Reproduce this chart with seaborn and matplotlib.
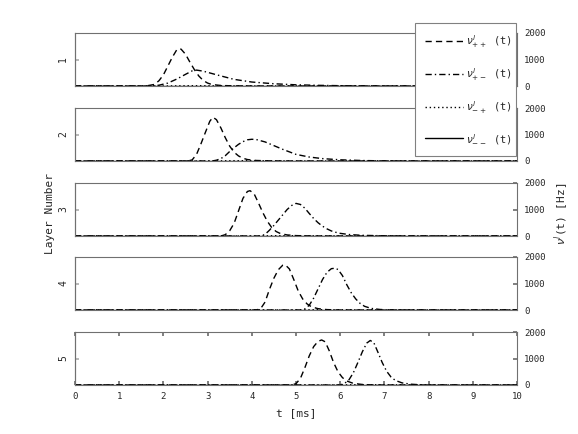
import numpy as np
import pandas as pd
import matplotlib
matplotlib.use("Agg")
import matplotlib.pyplot as plt
from matplotlib.lines import Line2D
import seaborn as sns

# ---------------- data ----------------
layers = [1, 2, 3, 4, 5]
series_names = ["++", "+-", "-+", "--"]
x_ticks = [0, 1, 2, 3, 4, 5, 6, 7, 8, 9, 10]
right_ticks = [0, 1000, 2000]

# layer 1
l1_pp_t = [0, 1.6, 1.8, 1.9, 2.0, 2.1, 2.2, 2.3, 2.35, 2.4, 2.5, 2.6, 2.7, 2.8, 2.9, 3.0, 3.1, 3.3, 3.6, 4.0, 10]
l1_pp_v = [0, 0, 60, 200, 420, 750, 1080, 1360, 1410, 1390, 1200, 900, 620, 380, 210, 110, 55, 20, 5, 0, 0]
l1_pm_t = [0, 1.7, 1.9, 2.1, 2.3, 2.5, 2.65, 2.75, 2.9, 3.1, 3.3, 3.6, 4.0, 4.5, 5.0, 5.5, 6.0, 6.5, 7.0, 10]
l1_pm_v = [0, 0, 30, 110, 260, 440, 570, 600, 560, 470, 380, 250, 150, 85, 45, 25, 12, 5, 0, 0]
l1_mp_t = [0, 2.0, 2.6, 3.2, 4.5, 10]
l1_mp_v = [0, 0, 12, 8, 0, 0]
l1_mm_t = [0, 10]
l1_mm_v = [0, 0]

# layer 2
l2_pp_t = [0, 2.55, 2.65, 2.75, 2.85, 2.95, 3.05, 3.12, 3.2, 3.3, 3.4, 3.5, 3.6, 3.7, 3.8, 3.9, 4.1, 4.4, 4.8, 10]
l2_pp_v = [0, 0, 40, 250, 650, 1080, 1500, 1650, 1560, 1250, 880, 560, 330, 190, 105, 55, 20, 5, 0, 0]
l2_pm_t = [0, 3.1, 3.2, 3.3, 3.4, 3.5, 3.6, 3.7, 3.8, 3.9, 4.0, 4.1, 4.3, 4.5, 4.7, 5.0, 5.3, 5.6, 6.0, 6.5, 7.0, 7.5, 10]
l2_pm_v = [0, 0, 30, 90, 200, 360, 500, 630, 730, 800, 820, 810, 720, 580, 440, 250, 150, 90, 45, 18, 5, 0, 0]
l2_mp_t = [0, 3.0, 3.6, 4.3, 5.5, 10]
l2_mp_v = [0, 0, 12, 8, 0, 0]
l2_mm_t = [0, 10]
l2_mm_v = [0, 0]

# layer 3
l3_pp_t = [0, 3.3, 3.4, 3.5, 3.6, 3.7, 3.8, 3.9, 3.96, 4.05, 4.15, 4.25, 4.35, 4.45, 4.55, 4.65, 4.8, 5.0, 5.4, 10]
l3_pp_v = [0, 0, 50, 200, 480, 950, 1420, 1680, 1710, 1600, 1250, 880, 560, 320, 170, 90, 40, 15, 0, 0]
l3_pm_t = [0, 4.2, 4.3, 4.4, 4.5, 4.6, 4.7, 4.8, 4.9, 5.0, 5.1, 5.2, 5.3, 5.4, 5.5, 5.6, 5.7, 5.8, 5.9, 6.0, 6.2, 6.5, 7.0, 7.5, 10]
l3_pm_v = [0, 0, 60, 220, 400, 600, 800, 1000, 1150, 1230, 1190, 1050, 850, 660, 500, 370, 270, 190, 140, 100, 55, 25, 8, 0, 0]
l3_mp_t = [0, 4.0, 4.6, 5.4, 6.6, 10]
l3_mp_v = [0, 0, 12, 8, 0, 0]
l3_mm_t = [0, 10]
l3_mm_v = [0, 0]

# layer 4
l4_pp_t = [0, 4.1, 4.2, 4.3, 4.4, 4.5, 4.6, 4.7, 4.76, 4.85, 4.95, 5.05, 5.15, 5.25, 5.35, 5.5, 5.7, 6.0, 10]
l4_pp_v = [0, 0, 50, 300, 780, 1200, 1520, 1690, 1700, 1550, 1150, 720, 420, 230, 120, 50, 15, 0, 0]
l4_pm_t = [0, 5.1, 5.2, 5.3, 5.4, 5.5, 5.6, 5.7, 5.8, 5.88, 5.95, 6.05, 6.15, 6.25, 6.35, 6.45, 6.55, 6.7, 6.9, 7.2, 10]
l4_pm_v = [0, 0, 40, 180, 450, 800, 1150, 1420, 1560, 1575, 1530, 1300, 950, 650, 420, 250, 140, 60, 20, 0, 0]
l4_mp_t = [0, 4.9, 5.5, 6.3, 7.3, 10]
l4_mp_v = [0, 0, 12, 8, 0, 0]
l4_mm_t = [0, 10]
l4_mm_v = [0, 0]

# layer 5
l5_pp_t = [0, 4.9, 5.0, 5.1, 5.2, 5.3, 5.4, 5.5, 5.58, 5.66, 5.75, 5.85, 5.95, 6.05, 6.15, 6.3, 6.5, 6.8, 10]
l5_pp_v = [0, 0, 50, 250, 650, 1100, 1450, 1650, 1700, 1630, 1300, 850, 500, 280, 150, 60, 20, 0, 0]
l5_pm_t = [0, 6.0, 6.1, 6.2, 6.3, 6.4, 6.5, 6.6, 6.68, 6.76, 6.85, 6.95, 7.05, 7.15, 7.25, 7.4, 7.6, 7.9, 10]
l5_pm_v = [0, 0, 60, 200, 470, 850, 1250, 1580, 1680, 1600, 1250, 850, 520, 300, 170, 80, 30, 0, 0]
l5_mp_t = [0, 5.8, 6.4, 7.1, 8.0, 10]
l5_mp_v = [0, 0, 12, 8, 0, 0]
l5_mm_t = [0, 10]
l5_mm_v = [0, 0]

layer_data = {
    1: [(l1_pp_t, l1_pp_v), (l1_pm_t, l1_pm_v), (l1_mp_t, l1_mp_v), (l1_mm_t, l1_mm_v)],
    2: [(l2_pp_t, l2_pp_v), (l2_pm_t, l2_pm_v), (l2_mp_t, l2_mp_v), (l2_mm_t, l2_mm_v)],
    3: [(l3_pp_t, l3_pp_v), (l3_pm_t, l3_pm_v), (l3_mp_t, l3_mp_v), (l3_mm_t, l3_mm_v)],
    4: [(l4_pp_t, l4_pp_v), (l4_pm_t, l4_pm_v), (l4_mp_t, l4_mp_v), (l4_mm_t, l4_mm_v)],
    5: [(l5_pp_t, l5_pp_v), (l5_pm_t, l5_pm_v), (l5_mp_t, l5_mp_v), (l5_mm_t, l5_mm_v)],
}

# ---------------- style ----------------
sns.set_theme(style="white")
plt.rcParams["font.family"] = ["DejaVu Sans Mono", "DejaVu Sans"]
plt.rcParams["mathtext.fontset"] = "dejavusans"

LW = 1.0
styles = {
    "++": (0, (4.5, 3.0)),
    "+-": (0, (4.5, 2.2, 1.0, 2.2)),
    "-+": (0, (1.0, 2.0)),
    "--": "-",
}
SPINE = "#707070"

W, H = 578, 434
fig = plt.figure(figsize=(W / 100, H / 100), dpi=100)
fig.patch.set_facecolor("white")

left_px, right_px = 75, 517
tops = [33, 108, 183, 257, 332]
panel_h = 53

axes = []
for i, layer in enumerate(layers):
    top = tops[i]
    ax = fig.add_axes([left_px / W, 1 - (top + panel_h) / H,
                       (right_px - left_px) / W, panel_h / H])
    for (t, v), name in zip(layer_data[layer], series_names):
        df = pd.DataFrame({"t": t, "v": v})
        sns.lineplot(data=df, x="t", y="v", ax=ax, color="black",
                     linestyle=styles[name], linewidth=LW, sort=False,
                     estimator=None, legend=False)
    ax.set_xlim(0, 10)
    ax.set_ylim(0, 2000)
    ax.set_xlabel("")
    ax.set_ylabel("")
    ax.set_facecolor("white")
    for sp in ax.spines.values():
        sp.set_color(SPINE)
        sp.set_linewidth(0.8)
        sp.set_visible(True)
    # right axis ticks
    ax.yaxis.tick_right()
    ax.set_yticks(right_ticks)
    ax.set_yticklabels([str(r) for r in right_ticks])
    ax.tick_params(axis="y", which="both", direction="in", length=3,
                   color=SPINE, labelsize=6.5, pad=5, right=True, left=False)
    # left: layer number
    sec = ax.secondary_yaxis("left")
    sec.set_yticks([1000])
    sec.set_yticklabels([str(layer)], rotation=90, va="center")
    sec.tick_params(direction="in", length=3, color="#b0b0b0", labelsize=7, pad=5)
    sec.spines["left"].set_color(SPINE)
    sec.spines["left"].set_linewidth(0.8)
    if i < len(layers) - 1:
        ax.set_xticks([])
    else:
        ax.set_xticks(x_ticks)
        ax.set_xticklabels([str(x) for x in x_ticks])
        ax.tick_params(axis="x", direction="in", length=3, color=SPINE,
                       labelsize=6.5, pad=5, top=True, bottom=True)
    axes.append(ax)

fig.text(50 / W, 1 - 214 / H, "Layer Number", rotation=90, ha="center",
         va="center", fontsize=8)
fig.text(562 / W, 1 - 214 / H, r"$\nu^{l}$(t) [Hz]", rotation=90, ha="center",
         va="center", fontsize=8)
fig.text((left_px + right_px) / 2 / W, 1 - 413 / H, "t [ms]", ha="center",
         va="center", fontsize=8)

handles = [Line2D([0], [0], color="black", linestyle=styles[n], linewidth=LW)
           for n in series_names]
labels = [r"$\nu^{l}_{++}$ (t)", r"$\nu^{l}_{+-}$ (t)",
          r"$\nu^{l}_{-+}$ (t)", r"$\nu^{l}_{--}$ (t)"]
leg = fig.legend(handles, labels, loc="upper left",
                 bbox_to_anchor=(415 / W, 1 - 23 / H, 101 / W, 0.001),
                 bbox_transform=fig.transFigure, mode="expand",
                 frameon=True, fancybox=False,
                 framealpha=1, edgecolor="#808080", fontsize=7.5,
                 handlelength=3.6, labelspacing=1.55, borderpad=1.0,
                 handletextpad=0.3, borderaxespad=0)
leg.get_frame().set_linewidth(0.8)

fig.savefig("out.png", dpi=100, facecolor="white")
